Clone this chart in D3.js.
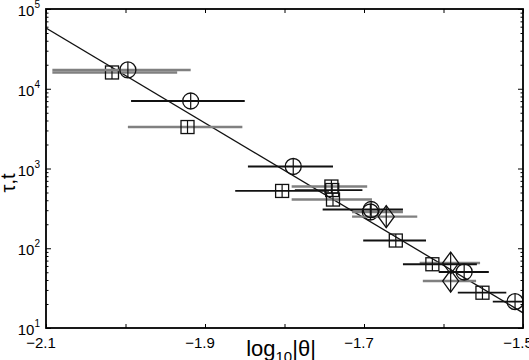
<!DOCTYPE html>
<html>
<head>
<meta charset="utf-8">
<script src="https://cdn.jsdelivr.net/npm/d3@7"></script>
<style>
  body { margin: 0; background: #fff; }
  text { font-family: "Liberation Sans", Arial, sans-serif; fill: #000; }
</style>
</head>
<body>
<div id="canvas"></div>
<script>
// circles, black error bars
let circX = [-1.918, -1.789, -1.691, -1.574, -1.510];
let circY = [7020, 1060, 306, 50.4, 21.4];
let circLo = [-1.993, -1.846, -1.752, -1.606, -1.538];
let circHi = [-1.850, -1.739, -1.651, -1.543, -1.480];
// circles, grey error bars
let circGX = [-1.997, -1.692];
let circGY = [17200, 285];
let circGLo = [-2.092, -1.715];
let circGHi = [-1.918, -1.651];
// squares, grey error bars
let sqGX = [-2.017, -1.922, -1.741, -1.739];
let sqGY = [16000, 3310, 594, 408];
let sqGLo = [-2.092, -1.997, -1.791, -1.791];
let sqGHi = [-1.935, -1.853, -1.696, -1.690];
// squares, black error bars
let sqX = [-1.803, -1.740, -1.660, -1.614, -1.551];
let sqY = [523, 537, 125, 63, 27.7];
let sqLo = [-1.862, -1.787, -1.701, -1.651, -1.582];
let sqHi = [-1.744, -1.702, -1.622, -1.558, -1.521];
// diamonds, grey error bars
let diaX = [-1.672, -1.591, -1.591];
let diaY = [249, 65.3, 38.8];
let diaLo = [-1.715, -1.630, -1.626];
let diaHi = [-1.633, -1.554, -1.559];
// power-law fit
let fitX = [-2.1, -1.5];
let fitY = [57800, 15.5];

let xTicks = [-2.1, -2.0, -1.9, -1.8, -1.7, -1.6, -1.5];
let xLabels = [-2.1, -1.9, -1.7, -1.5];
let yMajor = [10, 100, 1000, 10000, 100000];

let width = 529;
let height = 360;
let pLeft = 46, pRight = 523, pTop = 9, pBottom = 328;

var svg = d3.select("#canvas").append("svg")
    .attr("width", width)
    .attr("height", height);

var xScale = d3.scaleLinear().domain([-2.1, -1.5]).range([pLeft, pRight]);
var yScale = d3.scaleLog().domain([10, 100000]).range([pBottom, pTop]);

let yMinor = [];
for (let d = 10; d < 100000; d *= 10) {
    for (let k = 2; k < 10; k++) yMinor.push(d * k);
}

svg.append("clipPath").attr("id", "clip")
    .append("rect")
    .attr("x", pLeft).attr("y", pTop)
    .attr("width", pRight - pLeft).attr("height", pBottom - pTop);

var plot = svg.append("g").attr("clip-path", "url(#clip)");

// fit line
plot.append("line")
    .attr("x1", xScale(fitX[0])).attr("y1", yScale(fitY[0]))
    .attr("x2", xScale(fitX[1])).attr("y2", yScale(fitY[1]))
    .attr("stroke", "#111")
    .attr("stroke-width", 1.3);

function series(xs, ys, lo, hi, barColor, shape) {
    let g = plot.append("g");
    for (let i = 0; i < xs.length; i++) {
        let cx = xScale(xs[i]);
        let cy = yScale(ys[i]);
        g.append("line")
            .attr("x1", xScale(lo[i])).attr("y1", cy)
            .attr("x2", xScale(hi[i])).attr("y2", cy)
            .attr("stroke", barColor)
            .attr("stroke-width", barColor === "#111" ? 1.8 : 2.4);
        let h = shape === "circle" ? 8 : shape === "square" ? 6.5 : 11;
        g.append("line")
            .attr("x1", cx).attr("y1", cy - h)
            .attr("x2", cx).attr("y2", cy + h)
            .attr("stroke", "#111").attr("stroke-width", 1.2);
        if (shape === "circle") {
            g.append("circle")
                .attr("cx", cx).attr("cy", cy).attr("r", 8)
                .attr("fill", "none").attr("stroke", "#111").attr("stroke-width", 1.3);
        } else if (shape === "square") {
            g.append("rect")
                .attr("x", cx - 6.5).attr("y", cy - 6.5)
                .attr("width", 13).attr("height", 13)
                .attr("fill", "none").attr("stroke", "#111").attr("stroke-width", 1.3);
        } else {
            g.append("path")
                .attr("d", `M${cx},${cy - 11}L${cx + 8},${cy}L${cx},${cy + 11}L${cx - 8},${cy}Z`)
                .attr("fill", "none").attr("stroke", "#111").attr("stroke-width", 1.3);
        }
    }
}

series(sqGX, sqGY, sqGLo, sqGHi, "#808080", "square");
series(circGX, circGY, circGLo, circGHi, "#808080", "circle");
series(diaX, diaY, diaLo, diaHi, "#808080", "diamond");
series(sqX, sqY, sqLo, sqHi, "#111", "square");
series(circX, circY, circLo, circHi, "#111", "circle");

// axes: inward ticks on all four sides
function styleAxis(g) {
    g.select(".domain").remove();
    g.selectAll(".tick line").attr("stroke", "#000").attr("stroke-width", 1);
}
svg.append("g").attr("transform", `translate(0,${pBottom})`)
    .call(d3.axisBottom(xScale).tickValues(xTicks).tickSize(-4).tickFormat(""))
    .call(styleAxis);
svg.append("g").attr("transform", `translate(0,${pTop})`)
    .call(d3.axisTop(xScale).tickValues(xTicks).tickSize(-4).tickFormat(""))
    .call(styleAxis);
svg.append("g").attr("transform", `translate(${pLeft},0)`)
    .call(d3.axisLeft(yScale).tickValues(yMajor).tickSize(-5).tickFormat(""))
    .call(styleAxis);
svg.append("g").attr("transform", `translate(${pLeft},0)`)
    .call(d3.axisLeft(yScale).tickValues(yMinor).tickSize(-2.5).tickFormat(""))
    .call(styleAxis);
svg.append("g").attr("transform", `translate(${pRight},0)`)
    .call(d3.axisRight(yScale).tickValues(yMajor).tickSize(-5).tickFormat(""))
    .call(styleAxis);
svg.append("g").attr("transform", `translate(${pRight},0)`)
    .call(d3.axisRight(yScale).tickValues(yMinor).tickSize(-2.5).tickFormat(""))
    .call(styleAxis);

svg.append("rect")
    .attr("x", pLeft).attr("y", pTop)
    .attr("width", pRight - pLeft).attr("height", pBottom - pTop)
    .attr("fill", "none").attr("stroke", "#000").attr("stroke-width", 1.8);

// tick labels
xLabels.forEach(v => {
    svg.append("text")
        .attr("x", xScale(v) - 5).attr("y", pBottom + 20)
        .attr("text-anchor", "middle")
        .attr("font-size", 15)
        .text(d3.format(".1f")(v).replace("-", "\u2212"));
});
yMajor.forEach(v => {
    let t = svg.append("text")
        .attr("x", 40).attr("y", yScale(v) + 7)
        .attr("text-anchor", "end")
        .attr("font-size", 15);
    t.append("tspan").text("10");
    t.append("tspan").attr("font-size", 10).attr("dy", -8).text(Math.round(Math.log10(v)));
});

// axis titles
let xl = svg.append("text")
    .attr("x", 281).attr("y", 356)
    .attr("text-anchor", "middle")
    .attr("font-size", 22);
xl.append("tspan").text("log");
xl.append("tspan").attr("font-size", 15).attr("dy", 6).text("10");
xl.append("tspan").attr("dy", -6).text("|\u03b8|");

svg.append("text")
    .attr("transform", "translate(15,183) rotate(-90)")
    .attr("text-anchor", "middle")
    .attr("font-size", 20)
    .text("\u03c4,t");
</script>
</body>
</html>
